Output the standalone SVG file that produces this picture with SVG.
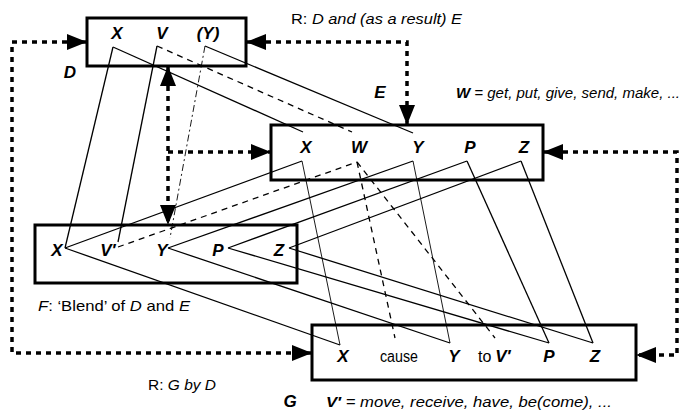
<svg xmlns="http://www.w3.org/2000/svg" width="684" height="411" viewBox="0 0 684 411">
<style>
.box{fill:#fff;stroke:#000;stroke-width:3}
.lab{font-family:"Liberation Sans",Arial,sans-serif;font-weight:bold;font-style:italic;font-size:17px;text-anchor:middle}
.txt{font-family:"Liberation Sans",Arial,sans-serif;font-size:15px}
.gt{font-family:"Liberation Sans",Arial,sans-serif;font-size:16px}
.it{font-style:italic}
.b{font-weight:bold}
.dot{fill:none;stroke:#000;stroke-width:3.5;stroke-dasharray:5 5}
.ln{fill:none;stroke:#000;stroke-width:1.3}
.th{fill:none;stroke:#000;stroke-width:0.9}
.ds{fill:none;stroke:#000;stroke-width:1.3;stroke-dasharray:6 5}
.dd{fill:none;stroke:#000;stroke-width:0.9;stroke-dasharray:7 3 2 3}
</style>
<defs>
<marker id="ah" viewBox="0 0 20 16" refX="20" refY="8" markerWidth="20" markerHeight="16" markerUnits="userSpaceOnUse" orient="auto-start-reverse">
<path d="M0,0 L20,8 L0,16 z" fill="#000"/>
</marker>
</defs>
<g id="nodeD">
<rect class="box" x="87" y="18" width="159" height="48"/>
<text class="lab" x="117" y="39">X</text>
<text class="lab" x="162" y="39">V</text>
<text class="lab" x="208" y="39">(Y)</text>
</g>
<g id="nodeE">
<rect class="box" x="271" y="125" width="272" height="55"/>
<text class="lab" x="306" y="153">X</text>
<text class="lab" x="359" y="153">W</text>
<text class="lab" x="418" y="153">Y</text>
<text class="lab" x="470" y="153">P</text>
<text class="lab" x="524" y="153">Z</text>
</g>
<g id="nodeF">
<rect class="box" x="35" y="225" width="262" height="58"/>
<text class="lab" x="57" y="256">X</text>
<text class="lab" x="108" y="256">V′</text>
<text class="lab" x="162" y="256">Y</text>
<text class="lab" x="218" y="256">P</text>
<text class="lab" x="279" y="256">Z</text>
</g>
<g id="nodeG">
<rect class="box" x="312" y="325" width="324" height="55"/>
<text class="lab" x="343" y="362">X</text>
<text class="gt" x="380" y="362" textLength="38" lengthAdjust="spacingAndGlyphs">cause</text>
<text class="lab" x="454" y="362">Y</text>
<text class="gt" x="478" y="362">to</text>
<text class="lab" x="503" y="362">V′</text>
<text class="lab" x="549" y="362">P</text>
<text class="lab" x="595" y="362">Z</text>
</g>
<g id="connectors">
<path class="ln" d="M113,47 L303,132"/>
<path class="ln" d="M113,47 L65,248"/>
<path class="ln" d="M157,46 L118,242"/>
<path class="ln" d="M205,46 L413,133"/>
<path class="ln" d="M302,161 L65,248"/>
<path class="th" d="M302,161 L340,345"/>
<path class="ln" d="M413,161 L168,248"/>
<path class="th" d="M413,161 L450,343"/>
<path class="ln" d="M467,161 L228,248"/>
<path class="ln" d="M467,161 L549,343"/>
<path class="ln" d="M521,161 L289,248"/>
<path class="ln" d="M521,161 L593,343"/>
<path class="ln" d="M65,248 L340,345"/>
<path class="ln" d="M168,248 L450,343"/>
<path class="ln" d="M228,248 L549,343"/>
<path class="ln" d="M289,248 L593,343"/>
<path class="ds" d="M157,46 L352,132"/>
<path class="dd" d="M205,46 L170,238"/>
<path class="ds" d="M118,247 L357,162"/>
<path class="ds" d="M357,162 L395,338"/>
<path class="ds" d="M357,162 L495,338"/>
<path class="dot" d="M87,42 L12,42 L12,353 L312,353" marker-start="url(#ah)" marker-end="url(#ah)"/>
<path class="dot" d="M246,42 L407,42 L407,125" marker-start="url(#ah)" marker-end="url(#ah)"/>
<path class="dot" d="M543,152 L677,152 L677,355 L636,355" marker-start="url(#ah)" marker-end="url(#ah)"/>
<path class="dot" d="M168,66 L168,225" marker-start="url(#ah)" marker-end="url(#ah)"/>
<path class="dot" d="M168,152 L271,152" marker-end="url(#ah)"/>
</g>
<g id="labels">
<text class="txt" x="291" y="24" textLength="171" lengthAdjust="spacingAndGlyphs">R: <tspan class="it">D and (as a result) E</tspan></text>
<text class="lab" x="70" y="78">D</text>
<text class="lab" x="380" y="98">E</text>
<text class="txt it" x="456" y="98" textLength="224" lengthAdjust="spacingAndGlyphs"><tspan class="b">W</tspan> = get, put, give, send, make, ...</text>
<text class="txt" x="38" y="311" textLength="152" lengthAdjust="spacingAndGlyphs"><tspan class="it">F</tspan>: ‘Blend’ of <tspan class="it">D</tspan> and <tspan class="it">E</tspan></text>
<text class="txt" x="148" y="390" textLength="68" lengthAdjust="spacingAndGlyphs">R: <tspan class="it">G by D</tspan></text>
<text class="lab" x="290" y="407">G</text>
<text class="txt it" x="326" y="407" textLength="286" lengthAdjust="spacingAndGlyphs"><tspan class="b">V′</tspan> = move, receive, have, be(come), ...</text>
</g>
</svg>
